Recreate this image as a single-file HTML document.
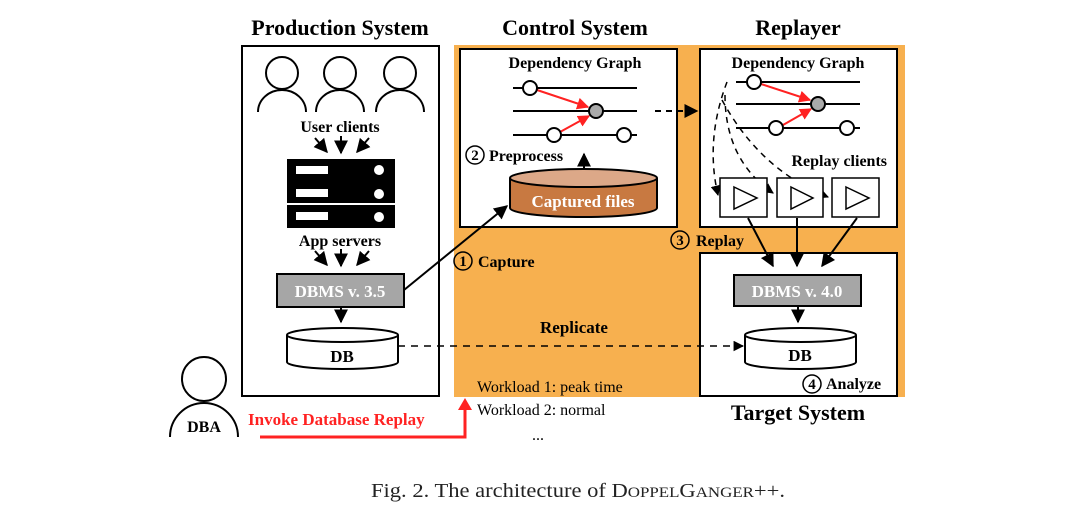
<!DOCTYPE html>
<html><head><meta charset="utf-8"><style>
body{margin:0;background:#fff}
svg text{font-family:"Liberation Serif",serif}
</style></head><body>
<svg width="1088" height="524" viewBox="0 0 1088 524" xmlns="http://www.w3.org/2000/svg">
<defs>
<marker id="a" viewBox="0 0 10 10" refX="9" refY="5" markerWidth="7" markerHeight="7" orient="auto"><path d="M0,0L10,5L0,10z" fill="#000"/></marker>
<marker id="ar" viewBox="0 0 10 10" refX="9" refY="5" markerWidth="6" markerHeight="6" orient="auto"><path d="M0,0L10,5L0,10z" fill="#f22"/></marker>
</defs>
<rect x="454" y="45" width="451" height="352" fill="#f7b04f"/>
<g stroke="#000" stroke-width="2" fill="#fff">
<rect x="242" y="46" width="197" height="350"/>
<rect x="460" y="49" width="217" height="178"/>
<rect x="700" y="49" width="197" height="178"/>
<rect x="700" y="253" width="197" height="143"/>
</g>
<g font-size="22" text-anchor="middle" font-weight="bold">
<text x="340" y="35">Production System</text>
<text x="575" y="35">Control System</text>
<text x="798" y="35">Replayer</text>
<text x="798" y="420">Target System</text>
</g>
<g stroke="#000" stroke-width="2" fill="none">
<circle cx="282" cy="73" r="16"/><circle cx="340" cy="73" r="16"/><circle cx="400" cy="73" r="16"/>
<path d="M258,112 A24,22 0 0 1 306,112"/><path d="M316,112 A24,22 0 0 1 364,112"/><path d="M376,112 A24,22 0 0 1 424,112"/>
<circle cx="204" cy="379" r="22"/><path d="M170,437 A34,34 0 0 1 238,437"/>
</g>
<g font-size="16" font-weight="bold" text-anchor="middle">
<text x="340" y="132">User clients</text>
<text x="340" y="246">App servers</text>
<text x="204" y="432">DBA</text>
</g>
<g stroke="#000" stroke-width="2" marker-end="url(#a)">
<line x1="315" y1="138" x2="327" y2="152"/><line x1="341" y1="136" x2="341" y2="153"/><line x1="369" y1="138" x2="357" y2="152"/>
<line x1="315" y1="251" x2="327" y2="265"/><line x1="341" y1="249" x2="341" y2="266"/><line x1="369" y1="251" x2="357" y2="265"/>
<line x1="341" y1="307" x2="341" y2="322"/>
<line x1="798" y1="306" x2="798" y2="322"/>
<line x1="584" y1="175" x2="584" y2="154"/>
<line x1="404" y1="290" x2="507" y2="206"/>
<line x1="748" y1="218" x2="773" y2="266"/><line x1="797" y1="218" x2="797" y2="266"/><line x1="857" y1="218" x2="822" y2="266"/>
</g>
<rect x="287" y="159" width="108" height="44" fill="#000"/>
<rect x="287" y="205" width="108" height="23" fill="#000"/>
<g fill="#fff"><rect x="296" y="166" width="32" height="8"/><rect x="296" y="189" width="32" height="8"/><rect x="296" y="212" width="32" height="8"/>
<circle cx="379" cy="170" r="5"/><circle cx="379" cy="194" r="5"/><circle cx="379" cy="217" r="5"/></g>
<rect x="277" y="274" width="127" height="33" fill="#a6a6a6" stroke="#000" stroke-width="2"/>
<text x="340" y="297" font-size="17" font-weight="bold" fill="#fff" text-anchor="middle">DBMS v. 3.5</text>
<rect x="734" y="275" width="127" height="31" fill="#a6a6a6" stroke="#000" stroke-width="2"/>
<text x="797" y="297" font-size="17" font-weight="bold" fill="#fff" text-anchor="middle">DBMS v. 4.0</text>
<g stroke="#000" stroke-width="2" fill="#fff">
<path d="M287,335 V362 A55.5,7 0 0 0 398,362 V335"/><ellipse cx="342.5" cy="335" rx="55.5" ry="7"/>
<path d="M745,335 V362 A55.5,7 0 0 0 856,362 V335"/><ellipse cx="800.5" cy="335" rx="55.5" ry="7"/>
<path d="M510,178 V208 A73.5,9 0 0 0 657,208 V178" fill="#c87941"/><ellipse cx="583.5" cy="178" rx="73.5" ry="9" fill="#dca888"/>
</g>
<g font-size="17" font-weight="bold" text-anchor="middle">
<text x="342" y="362">DB</text><text x="800" y="361">DB</text>
<text x="583" y="207" fill="#fff">Captured files</text>
</g>
<g font-size="16" font-weight="bold" text-anchor="middle">
<text x="575" y="68">Dependency Graph</text><text x="798" y="68">Dependency Graph</text>
</g>
<g stroke="#000" stroke-width="2">
<line x1="513" y1="88" x2="637" y2="88"/><line x1="513" y1="111" x2="637" y2="111"/><line x1="513" y1="135" x2="637" y2="135"/>
<line x1="736" y1="82" x2="860" y2="82"/><line x1="736" y1="104" x2="860" y2="104"/><line x1="736" y1="128" x2="860" y2="128"/>
</g>
<g stroke="#f22" stroke-width="2" marker-end="url(#ar)">
<line x1="537" y1="90" x2="588" y2="107"/><line x1="560" y1="132" x2="589" y2="116"/>
<line x1="761" y1="84" x2="810" y2="100"/><line x1="783" y1="125" x2="811" y2="109"/>
</g>
<g stroke="#000" stroke-width="2" fill="#fff">
<circle cx="530" cy="88" r="7"/><circle cx="596" cy="111" r="7" fill="#aaa"/><circle cx="554" cy="135" r="7"/><circle cx="624" cy="135" r="7"/>
<circle cx="754" cy="82" r="7"/><circle cx="818" cy="104" r="7" fill="#aaa"/><circle cx="776" cy="128" r="7"/><circle cx="847" cy="128" r="7"/>
</g>
<line x1="655" y1="111" x2="697" y2="111" stroke="#000" stroke-width="2" stroke-dasharray="6,5" marker-end="url(#a)"/>
<g fill="none" stroke="#000" stroke-width="1.5" stroke-dasharray="6,5" marker-end="url(#a)">
<path d="M727,82 Q705,140 718,195"/>
<path d="M725,95 Q725,160 773,193"/>
<path d="M722,100 Q760,170 828,197"/>
</g>
<g stroke="#000" stroke-width="1.5" fill="#fff">
<rect x="720" y="178" width="47" height="39"/><rect x="777" y="178" width="46" height="39"/><rect x="832" y="178" width="47" height="39"/>
<path d="M734,187 L757,198 L734,209z"/><path d="M791,187 L813,198 L791,209z"/><path d="M846,187 L869,198 L846,209z"/>
</g>
<text x="887" y="166" font-size="16" font-weight="bold" text-anchor="end">Replay clients</text>
<g stroke="#000" stroke-width="1.5" fill="none">
<circle cx="475" cy="155" r="9"/><circle cx="680" cy="240" r="9"/><circle cx="463" cy="261" r="9"/><circle cx="812" cy="384" r="9"/>
</g>
<g font-size="15" font-weight="bold">
<text x="475" y="160" text-anchor="middle">2</text><text x="680" y="245" text-anchor="middle">3</text>
<text x="463" y="266" text-anchor="middle">1</text><text x="812" y="389" text-anchor="middle">4</text>
<text x="489" y="161" font-size="16">Preprocess</text>
<text x="696" y="246" font-size="16">Replay</text>
<text x="478" y="267" font-size="16">Capture</text>
<text x="826" y="389" font-size="16">Analyze</text>
<text x="540" y="333" font-size="17">Replicate</text>
</g>
<line x1="398" y1="346" x2="743" y2="346" stroke="#000" stroke-width="1.5" stroke-dasharray="7,6" marker-end="url(#a)"/>
<g font-size="16">
<text x="477" y="392">Workload 1: peak time</text>
<text x="477" y="415">Workload 2: normal</text>
<text x="532" y="440">...</text>
</g>
<text x="248" y="425" font-size="17" font-weight="bold" fill="#f22">Invoke Database Replay</text>
<path d="M260,437 H465 V408" fill="none" stroke="#f22" stroke-width="3"/>
<path d="M458,410 L465,398 L472,410z" fill="#f22"/>
<text x="371" y="497" font-size="20" textLength="414" lengthAdjust="spacingAndGlyphs" fill="#222">Fig. 2.  The architecture of D<tspan font-size="15">OPPEL</tspan>G<tspan font-size="15">ANGER</tspan>++.</text>
</svg>
</body></html>
